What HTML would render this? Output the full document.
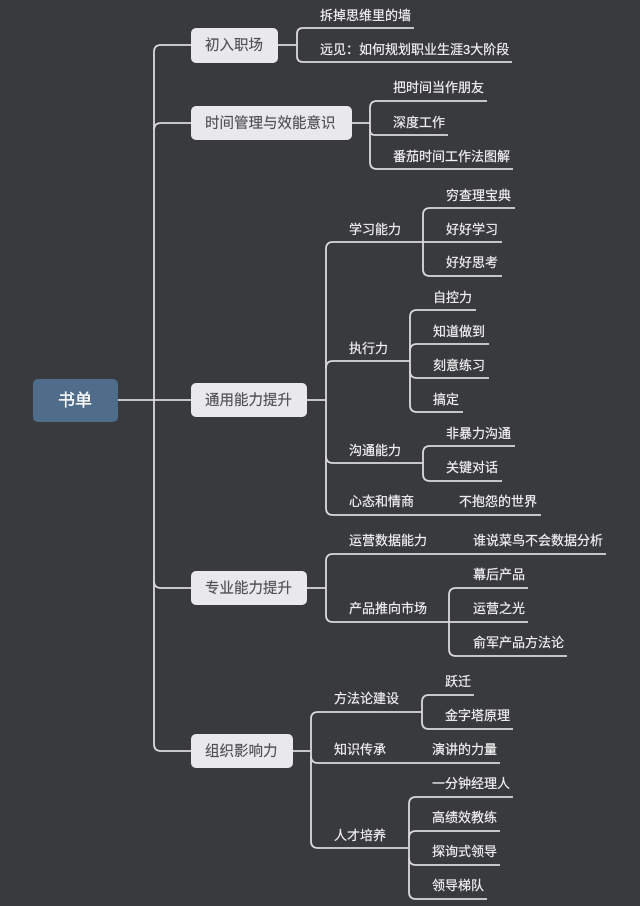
<!DOCTYPE html>
<html>
<head>
<meta charset="utf-8">
<style>
html,body{margin:0;padding:0;background:#393a3e;width:640px;height:906px;overflow:hidden}
svg{display:block;filter:blur(0.25px)}
text{font-family:"Liberation Sans","Noto Sans CJK SC",sans-serif;font-size:13px;fill:#efefef;stroke:#efefef;stroke-width:0.2}
.t{font-size:14.5px;fill:#505153;stroke:#505153;stroke-width:0.15}
.r{font-size:17px;fill:#fff;stroke:#fff;stroke-width:0.3}
path{fill:none;stroke:#dadada;stroke-width:1.8}
</style>
</head>
<body>
<svg width="640" height="906" viewBox="0 0 640 906" xmlns="http://www.w3.org/2000/svg">
<rect width="640" height="906" fill="#393a3e"/>
<!-- root connectors -->
<path d="M118 400H191"/>
<path d="M191 45H161Q154 45 154 52V744Q154 751 161 751H191"/>
<path d="M191 123H161Q154 123 154 130"/>
<path d="M154 581Q154 588 161 588H191"/>
<!-- 初入职场 -->
<path d="M278 45H297"/>
<path d="M414 28H303Q297 28 297 34V56Q297 62 303 62H512"/>
<!-- 时间管理 -->
<path d="M352 123H370"/>
<path d="M487 101H377Q370 101 370 108V162Q370 169 377 169H513"/>
<path d="M370 130Q370 135 375 135H448"/>
<!-- 通用能力 -->
<path d="M307 400H326"/>
<path d="M502 242H333Q326 242 326 249V508Q326 515 333 515H541"/>
<path d="M410 361H333Q326 361 326 368"/>
<path d="M326 456Q326 463 333 463H423"/>
<path d="M515 208H430Q423 208 423 215V269Q423 276 430 276H502"/>
<path d="M476 310H417Q410 310 410 317V405Q410 412 417 412H463"/>
<path d="M489 344H417Q410 344 410 351"/>
<path d="M410 371Q410 378 417 378H489"/>
<path d="M515 446H430Q423 446 423 453V474Q423 481 430 481H502"/>
<!-- 专业能力 -->
<path d="M307 588H326"/>
<path d="M606 554H333Q326 554 326 561V615Q326 622 333 622H528"/>
<path d="M528 588H456Q449 588 449 595V649Q449 656 456 656H567"/>
<!-- 组织影响力 -->
<path d="M293 751H311"/>
<path d="M422 712H318Q311 712 311 719V841Q311 848 318 848H409"/>
<path d="M311 756Q311 763 318 763H500"/>
<path d="M474 695H429Q422 695 422 702V722Q422 729 429 729H513"/>
<path d="M513 797H416Q409 797 409 804V892Q409 899 416 899H487"/>
<path d="M500 831H416Q409 831 409 838"/>
<path d="M409 858Q409 865 416 865H500"/>
<!-- boxes -->
<rect x="33" y="379" width="85" height="43" rx="5" fill="#4f6d8a"/>
<rect x="191" y="28" width="87" height="35" rx="5" fill="#e9e9eb"/>
<rect x="191" y="106" width="161" height="34" rx="5" fill="#e9e9eb"/>
<rect x="191" y="383" width="116" height="34" rx="5" fill="#e9e9eb"/>
<rect x="191" y="571" width="116" height="34" rx="5" fill="#e9e9eb"/>
<rect x="191" y="734" width="102" height="34" rx="5" fill="#e9e9eb"/>
<text class="r" x="58" y="406">书单</text>
<text class="t" x="205" y="50">初入职场</text>
<text class="t" x="205" y="128">时间管理与效能意识</text>
<text class="t" x="205" y="405">通用能力提升</text>
<text class="t" x="205" y="593">专业能力提升</text>
<text class="t" x="205" y="756">组织影响力</text>
<!-- labels -->
<text x="320" y="20">拆掉思维里的墙</text>
<text x="320" y="54">远见：如何规划职业生涯3大阶段</text>
<text x="393" y="92">把时间当作朋友</text>
<text x="393" y="127">深度工作</text>
<text x="393" y="161">番茄时间工作法图解</text>
<text x="446" y="200">穷查理宝典</text>
<text x="349" y="234">学习能力</text>
<text x="446" y="234">好好学习</text>
<text x="446" y="267">好好思考</text>
<text x="433" y="302">自控力</text>
<text x="349" y="353">执行力</text>
<text x="433" y="336">知道做到</text>
<text x="433" y="370">刻意练习</text>
<text x="433" y="404">搞定</text>
<text x="446" y="438">非暴力沟通</text>
<text x="349" y="455">沟通能力</text>
<text x="446" y="472">关键对话</text>
<text x="349" y="506">心态和情商</text>
<text x="459" y="506">不抱怨的世界</text>
<text x="349" y="545">运营数据能力</text>
<text x="473" y="545">谁说菜鸟不会数据分析</text>
<text x="473" y="579">幕后产品</text>
<text x="349" y="613">产品推向市场</text>
<text x="473" y="613">运营之光</text>
<text x="473" y="647">俞军产品方法论</text>
<text x="334" y="703">方法论建设</text>
<text x="445" y="686">跃迁</text>
<text x="445" y="720">金字塔原理</text>
<text x="334" y="754">知识传承</text>
<text x="432" y="754">演讲的力量</text>
<text x="432" y="788">一分钟经理人</text>
<text x="334" y="840">人才培养</text>
<text x="432" y="822">高绩效教练</text>
<text x="432" y="856">探询式领导</text>
<text x="432" y="890">领导梯队</text>
</svg>
</body>
</html>
